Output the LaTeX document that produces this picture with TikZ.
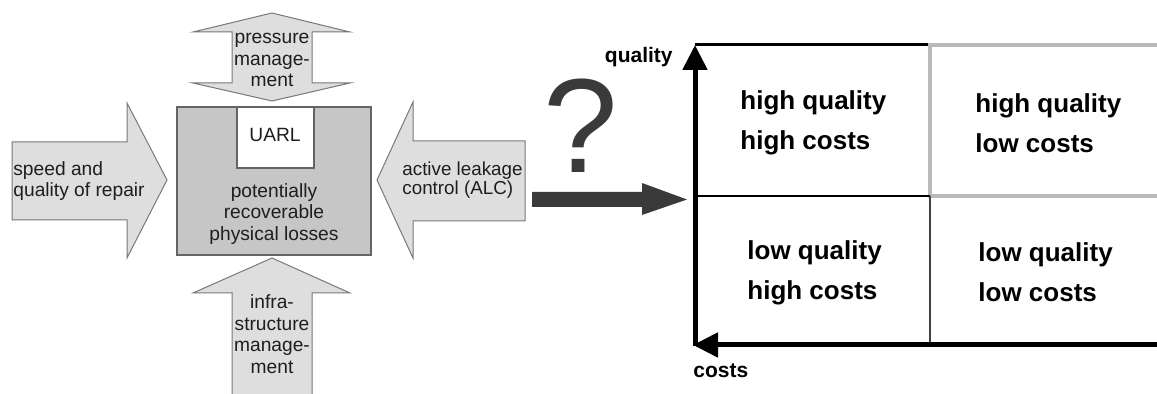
\documentclass[tikz,border=0pt]{standalone}
\usepackage{fontspec}
\setmainfont{Liberation Sans}
\usetikzlibrary{arrows.meta}
\definecolor{arrowfill}{RGB}{222,222,222}
\definecolor{arrowline}{RGB}{120,120,120}
\definecolor{boxfill}{RGB}{198,198,198}
\definecolor{boxline}{RGB}{100,100,100}
\definecolor{darkarrow}{RGB}{58,58,58}
\definecolor{lightframe}{RGB}{185,185,185}
\definecolor{txt}{RGB}{30,30,30}
\begin{document}
\begin{tikzpicture}[x=0.5pt,y=-0.5pt,
  blockarrow/.style={fill=arrowfill,draw=arrowline,line width=0.5pt,line join=miter},
  lbl/.style={inner sep=0pt,font=\fontsize{9.6}{10.8}\selectfont,text=txt},
  cell/.style={inner sep=0pt,font=\fontsize{13}{20}\selectfont\bfseries,align=left,anchor=west,text=black},
  axis/.style={line width=2.5pt,draw=black,-{Triangle[width=12pt,length=12.5pt]}},
  axislabel/.style={inner sep=0pt,font=\fontsize{10.5}{10.5}\selectfont\bfseries,text=black}
 ]
\useasboundingbox (0,0) rectangle (1157,394);

% ---- block arrows
\draw[blockarrow] (12,142) -- (127,142) -- (127,103) -- (167,180) -- (127,258) -- (127,220) -- (12,220) -- cycle;
\draw[blockarrow] (525,141) -- (413,141) -- (413,102) -- (377,180) -- (413,258) -- (413,221) -- (525,221) -- cycle;
\draw[blockarrow] (272,13) -- (350,32) -- (312,32) -- (312,83) -- (350,83) -- (272,101) -- (193,83) -- (232,83) -- (232,32) -- (193,32) -- cycle;
\draw[blockarrow] (272,258) -- (350,293) -- (312,293) -- (312,400) -- (232,400) -- (232,293) -- (193,293) -- cycle;

% ---- central box
\node (loss) [fill=boxfill,draw=boxline,line width=0.8pt,minimum width=97pt,minimum height=74pt,inner sep=0pt] at (274,181) {};
\node (uarlbox) [fill=white,draw=boxline,line width=0.7pt,minimum width=38.5pt,minimum height=30.5pt,inner sep=0pt] at (275.5,137.5) {};
\node (uarl) [lbl,anchor=base] at (275,142) {UARL};
\node (losstext) [lbl,align=center] at (274,214) {potentially\\recoverable\\physical losses};

% ---- arrow texts
\node (repair) [lbl,align=left,anchor=west] at (13,181) {speed and\\quality of repair};
\node (alc) [lbl,align=left,anchor=west,font=\fontsize{9.4}{9.7}\selectfont] at (402,180) {active leakage\\control (ALC)};
\node (pressure) [lbl,align=center] at (272,60) {pressure\\manage-\\ment};
\node (infra) [lbl,align=center] at (272,334) {infra-\\structure\\manage-\\ment};

% ---- question and dark arrow
\node (q) [anchor=base,inner sep=0pt,font=\fontsize{67}{67}\selectfont,text=darkarrow] at (581,173) {?};
\fill[darkarrow] (532,192) -- (642,192) -- (642,183) -- (687,199.5) -- (642,215) -- (642,207) -- (532,207) -- cycle;

% ---- matrix
\coordinate (O) at (695,345);
\coordinate (top) at (695,45);
\coordinate (left) at (693,345);
\coordinate (right) at (1157,345);
\coordinate (mid) at (930,196);
\draw[lightframe,line width=2.2pt] (928,45) -- (1157,45);
\draw[lightframe,line width=2.2pt] (930,45) -- (930,196) -- (1157,196);
\draw[black,line width=1.5pt] (695,45) -- (928,45);
\draw[black,line width=0.6pt] (695,196) -- (mid);
\draw[black!75,line width=1.3pt] (mid) -- (930,345);
\draw[axis] (695,346) -- (top);
\draw[axis] (right) -- (left);

\node (hh) [cell] at (740,123) {high quality\\high costs};
\node (hl) [cell] at (975,123) {high quality\\low costs};
\node (lh) [cell] at (747,273) {low quality\\high costs};
\node (ll) [cell] at (978,272) {low quality\\low costs};

\node (qual) [axislabel,anchor=base east] at (673,63) {quality};
\node (cost) [axislabel,anchor=base west] at (693,378) {costs};
\end{tikzpicture}
\end{document}
